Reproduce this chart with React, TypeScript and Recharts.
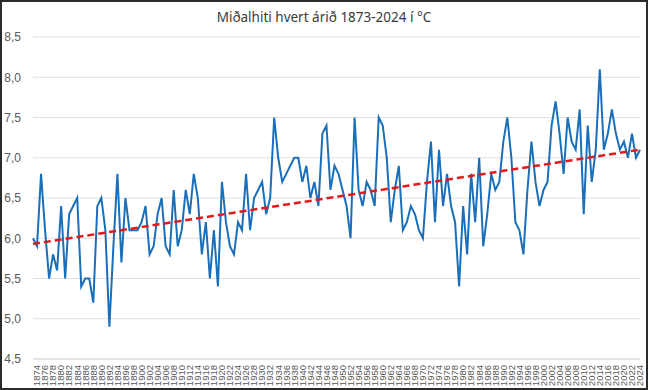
import { LineChart, Line, XAxis, YAxis, CartesianGrid } from 'recharts';

const START_YEAR = 1873;

// mean annual temperature, °C, 1873–2024
const TEMPS = [
  6.0, 5.9, 6.8, 6.1, 5.5, 5.8, 5.6, 6.4, 5.5, 6.3,
  6.4, 6.5, 5.4, 5.5, 5.5, 5.2, 6.4, 6.5, 6.1, 4.9,
  5.9, 6.8, 5.7, 6.5, 6.1, 6.1, 6.1, 6.2, 6.4, 5.8,
  5.9, 6.3, 6.5, 5.9, 5.8, 6.6, 5.9, 6.1, 6.6, 6.3,
  6.8, 6.5, 5.8, 6.2, 5.5, 6.1, 5.4, 6.7, 6.2, 5.9,
  5.8, 6.2, 6.1, 6.8, 6.1, 6.5, 6.6, 6.7, 6.3, 6.5,
  7.5, 7.0, 6.7, 6.8, 6.9, 7.0, 7.0, 6.7, 6.9, 6.5,
  6.7, 6.4, 7.3, 7.4, 6.6, 6.9, 6.8, 6.6, 6.4, 6.0,
  7.5, 6.6, 6.4, 6.7, 6.6, 6.4, 7.5, 7.4, 7.0, 6.2,
  6.6, 6.9, 6.1, 6.2, 6.4, 6.3, 6.1, 6.0, 6.7, 7.2,
  6.2, 7.1, 6.4, 6.8, 6.4, 6.2, 5.4, 6.4, 5.8, 6.8,
  6.2, 7.0, 5.9, 6.3, 6.8, 6.6, 6.7, 7.2, 7.5, 7.0,
  6.2, 6.1, 5.8, 6.6, 7.2, 6.7, 6.4, 6.6, 6.7, 7.4,
  7.7, 7.3, 6.8, 7.5, 7.2, 7.1, 7.6, 6.3, 7.4, 6.7,
  7.1, 8.1, 7.1, 7.3, 7.6, 7.3, 7.1, 7.2, 7.0, 7.3,
  7.0, 7.1,
];

// linear trend, value at first and last year
const TREND_START = 5.93;
const TREND_END = 7.1;

const Y_TICKS = [4.5, 5.0, 5.5, 6.0, 6.5, 7.0, 7.5, 8.0, 8.5];

const data = TEMPS.map((t, i) => ({
  year: START_YEAR + i,
  temp: t,
  trend: i === 0 ? TREND_START : i === TEMPS.length - 1 ? TREND_END : null,
}));

const YearTick = ({ x, y, payload }: any) => {
  if (payload.value % 2 !== 0) return null;
  return (
    <text
      x={x}
      y={y + 4}
      dy="0.35em"
      transform={`rotate(-90, ${x}, ${y + 4})`}
      textAnchor="end"
      fontSize={9.5}
      fill="#595959"
      fontFamily="Liberation Sans, Arial, sans-serif"
    >
      {payload.value}
    </text>
  );
};

export default function App() {
  return (
    <div
      style={{
        position: 'relative',
        width: 648,
        height: 390,
        boxSizing: 'border-box',
        border: '2px solid #2b2b2b',
        background: '#fff',
      }}
    >
      <style>{'body{margin:0}'}</style>
      <div
        style={{
          position: 'absolute',
          top: 6,
          left: 0,
          width: '100%',
          textAlign: 'center',
          fontFamily: '"Noto Sans", sans-serif',
          fontSize: 13.5,
          color: '#3a3a3a',
        }}
      >
        Miðalhiti hvert árið 1873-2024 í °C
      </div>
      <LineChart
        width={644}
        height={386}
        data={data}
        margin={{ top: 35, right: 6, left: 0, bottom: 2 }}
      >
        <CartesianGrid vertical={false} stroke="#e0e0e0" />
        <XAxis
          dataKey="year"
          interval={0}
          tick={<YearTick />}
          tickLine={false}
          tickSize={0}
          height={27}
          axisLine={{ stroke: '#d9d9d9' }}
        />
        <YAxis
          domain={[4.5, 8.5]}
          ticks={Y_TICKS}
          width={31}
          axisLine={false}
          tickLine={false}
          tickSize={0}
          tickMargin={12}
          tickFormatter={(v: number) => v.toFixed(1).replace('.', ',')}
          tick={{ fontSize: 12, fill: '#595959', fontFamily: 'Liberation Sans, Arial, sans-serif' }}
        />
        <Line
          dataKey="temp"
          stroke="#1a6fba"
          strokeWidth={2}
          dot={false}
          isAnimationActive={false}
        />
        <Line
          dataKey="trend"
          stroke="#e31a1c"
          strokeWidth={2.5}
          strokeDasharray="7 4"
          dot={false}
          connectNulls
          isAnimationActive={false}
        />
      </LineChart>
    </div>
  );
}
